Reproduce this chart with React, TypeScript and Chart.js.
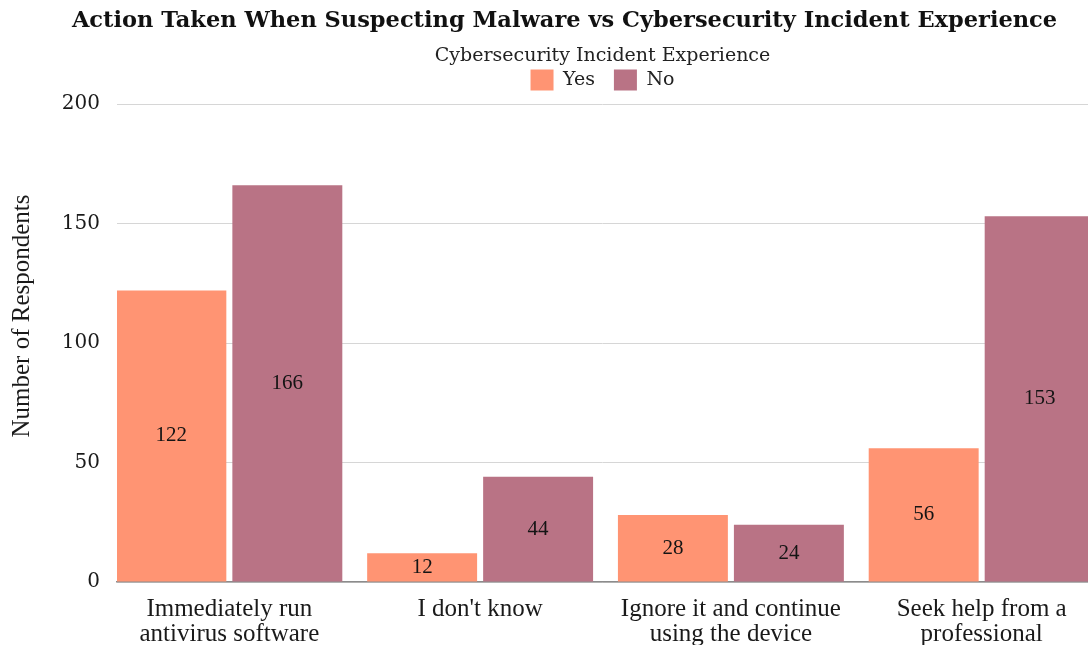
import React, { useEffect, useRef } from "react";
import { Chart, registerables } from "chart.js";

Chart.register(...registerables);

const categories: (string | string[])[] = [
  ["Immediately run", "antivirus software"],
  "I don't know",
  ["Ignore it and continue", "using the device"],
  ["Seek help from a", "professional"],
];
const seriesNames = ["Yes", "No"];
const yesValues = [122, 12, 28, 56];
const noValues = [166, 44, 24, 153];
const yTicks = [0, 50, 100, 150, 200];
const xWindow = [-0.448, 3.424];

const TITLE = "Action Taken When Suspecting Malware vs Cybersecurity Incident Experience";
const LEGEND_TITLE = "Cybersecurity Incident Experience";
const Y_TITLE = "Number of Respondents";

const YES_COLOR = "#FF9473";
const NO_COLOR = "#B97385";
const SERIF_A = "'DejaVu Serif', serif";
const SERIF_B = "'Liberation Serif', serif";

const valueLabels = {
  id: "valueLabels",
  afterDatasetsDraw(chart: any) {
    const ctx = chart.ctx;
    const area = chart.chartArea;
    ctx.save();
    ctx.beginPath();
    ctx.rect(area.left, area.top, area.right - area.left, area.bottom - area.top);
    ctx.clip();
    ctx.font = `21px ${SERIF_B}`;
    ctx.fillStyle = "#141414";
    ctx.textAlign = "center";
    ctx.textBaseline = "middle";
    chart.data.datasets.forEach((ds: any, di: number) => {
      const meta = chart.getDatasetMeta(di);
      meta.data.forEach((bar: any, i: number) => {
        const { x, y, base } = bar.getProps(["x", "y", "base"], true);
        ctx.fillText(String(ds.data[i]), x, (y + base) / 2);
      });
    });
    ctx.restore();
  },
};

const layoutTweaks = {
  id: "layoutTweaks",
  afterInit(chart: any) {
    const legend = chart.legend;
    if (legend && !legend.__patched) {
      const orig = legend.fit;
      legend.fit = function () {
        orig.call(this);
        this.height += 3.5;
      };
      legend.__patched = true;
    }
  },
  afterLayout(chart: any) {
    if (chart.titleBlock) chart.titleBlock.left = 41;
  },
  afterDraw(chart: any) {
    const ctx = chart.ctx;
    const area = chart.chartArea;
    ctx.save();
    ctx.translate(22.5, (area.top + area.bottom) / 2 - 27);
    ctx.rotate(-Math.PI / 2);
    ctx.font = `25px ${SERIF_B}`;
    ctx.fillStyle = "#1a1a1a";
    ctx.textAlign = "center";
    ctx.textBaseline = "middle";
    ctx.fillText(Y_TITLE, 0, 0);
    ctx.restore();
  },
};

export default function App() {
  const canvasRef = useRef<HTMLCanvasElement | null>(null);

  useEffect(() => {
    document.body.style.margin = "0";
    const canvas = canvasRef.current;
    if (!canvas) return;
    const chart = new Chart(canvas, {
      type: "bar",
      data: {
        labels: categories,
        datasets: [
          {
            label: seriesNames[0],
            data: yesValues,
            backgroundColor: YES_COLOR,
            categoryPercentage: 0.925,
            barPercentage: 0.948,
          },
          {
            label: seriesNames[1],
            data: noValues,
            backgroundColor: NO_COLOR,
            categoryPercentage: 0.925,
            barPercentage: 0.948,
          },
        ],
      },
      options: {
        responsive: false,
        animation: false,
        layout: { padding: 0 },
        plugins: {
          title: {
            display: true,
            text: TITLE,
            color: "#111",
            font: { family: SERIF_A, size: 22.5, weight: "bold" },
            padding: { top: 8, bottom: 0 },
          },
          legend: {
            display: true,
            position: "top",
            fullSize: false,
            title: {
              display: true,
              text: LEGEND_TITLE,
              color: "#222",
              font: { family: SERIF_A, size: 19 },
              padding: { top: 11.5, bottom: -18.8 },
            },
            labels: {
              color: "#222",
              font: { family: SERIF_A, size: 19 },
              boxWidth: 23,
              boxHeight: 21,
              padding: 19,
            },
          },
          tooltip: { enabled: false },
        },
        scales: {
          x: {
            type: "category",
            offset: true,
            afterBuildTicks: (scale: any) => {
              scale._startValue = xWindow[0];
              scale._valueRange = xWindow[1] - xWindow[0];
            },
            afterFit: (scale: any) => {
              scale.height = 63;
            },
            grid: { display: false, drawTicks: false },
            border: { display: true, color: "#8c8c8c", width: 1.5 },
            ticks: {
              color: "#1a1a1a",
              font: { family: SERIF_B, size: 25, lineHeight: 1.0 },
              padding: 15,
              maxRotation: 0,
              autoSkip: false,
            },
          },
          y: {
            min: 0,
            max: 200,
            afterBuildTicks: (scale: any) => {
              scale.ticks = yTicks.map((v) => ({ value: v }));
            },
            afterFit: (scale: any) => {
              scale.width = 117;
            },
            grid: { color: "#d6d6d6", lineWidth: 1, drawTicks: false },
            border: { display: false },
            ticks: {
              color: "#1a1a1a",
              font: { family: SERIF_A, size: 20 },
              padding: 17,
            },
          },
        },
      },
      plugins: [valueLabels, layoutTweaks],
    } as any);
    return () => chart.destroy();
  }, []);

  return (
    <div style={{ width: 1088, height: 645 }}>
      <canvas ref={canvasRef} width={1088} height={645} style={{ display: "block" }} />
    </div>
  );
}
